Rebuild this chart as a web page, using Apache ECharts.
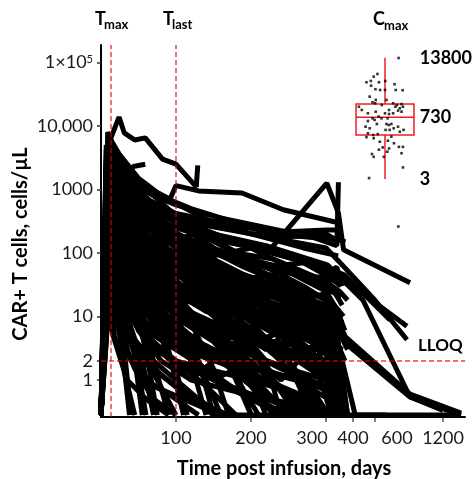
<!DOCTYPE html>
<html>
<head>
<meta charset="utf-8">
<script src="https://cdn.jsdelivr.net/npm/echarts@6/dist/echarts.min.js"></script>
<style>
html, body { margin: 0; padding: 0; background: #fff; }
#chart { width: 473px; height: 479px; }
</style>
</head>
<body>
<div id="chart"></div>
<script>
// axis ticks
var xTickDays = [100, 200, 300, 400, 600, 1200];
var yTickValues = [1, 2, 10, 100, 1000, 10000, 100000];

// reference lines
var tmaxDay = 13.3;
var tlastDay = 100;
var lloq = 2;

// one array per patient: [day, CAR+ T cells/uL]; 0.28 = below LLOQ (bottom)
var subjects = [
    [[0, .28], [7, 4200], [24, 13800], [31, 7800], [45, 6000], [59, 6500], [82, 3000], [100, 2500], [127, 1100], [129, 2400]],
    [[0, .28], [10, 7000], [22, 4000], [38, 1700], [43, 2300], [59, 2500]],
    [[0, .28], [11, 5500], [25, 3500], [50, 1500], [75, 900], [92, 700], [100, 1150], [130, 950], [188, 880], [243, 480], [330, 310], [352, 300]],
    [[0, .28], [12, 3000], [40, 1200], [70, 800], [100, 570], [159, 355], [248, 215], [300, 230], [360, 230]],
    [[0, .28], [8, 2500], [30, 900], [80, 300], [150, 160], [225, 112], [303, 1260], [346, 425], [365, 112], [909, 34]],
    [[0, .28], [10, 2000], [50, 600], [120, 300], [200, 200], [280, 180], [340, 130], [346, 1300]],
    [[0, .28], [9, 3500], [35, 1000], [100, 420], [160, 300], [250, 190], [350, 160], [372, 150]],
    [[0, .28], [10, 3000], [30, 1000], [80, 400], [150, 200], [220, 130], [305, 65], [491, 18], [909, 0.54], [1380, 0.28]],
    [[0, .28], [12, 2000], [40, 800], [100, 400], [200, 200], [300, 120], [346, 75], [600, 18], [882, 4.3]],
    [[0, .28], [9, 1500], [30, 600], [100, 250], [200, 120], [300, 60], [360, 40], [882, 7]],
    [[0, .28], [10, 800], [40, 200], [100, 60], [200, 20], [300, 8], [400, 3], [909, 0.54], [1200, 0.33]],
    [[0, .28], [12, 1200], [50, 300], [150, 60], [250, 20], [346, 6], [909, 0.6], [1380, 0.3]],
    [[0, .28], [10, 500], [60, 50], [150, 5], [250, 0.28], [1380, 0.28]],
    [[0, .28], [11, 2500], [40, 700], [100, 300], [200, 130], [300, 60], [369, 45], [732, 8.8]],
    [[0, .28], [9, 1000], [50, 150], [150, 40], [250, 12], [350, 3], [420, 0.28], [700, 0.28]],
    [[0, .28], [7, 5000], [14, 3000], [28, 2000], [60, 1000], [100, 600], [150, 300], [200, 200], [270, 120], [345, 90]],
    [[0, .28], [9, 8000], [21, 3000], [35, 1500], [56, 1200], [90, 700], [120, 500], [180, 300], [250, 180], [300, 200], [350, 150]],
    [[0, .28], [10, 4000], [17, 2500], [42, 900], [70, 500], [100, 350], [160, 180], [230, 100], [290, 60], [350, 40]],
    [[0, .28], [8, 3000], [20, 1500], [50, 400], [90, 150], [140, 60], [200, 30], [260, 15], [320, 8], [360, 5]],
    [[0, .28], [11, 6000], [28, 1500], [60, 300], [100, 80], [150, 25], [200, 8], [250, 2], [280, 0.28]],
    [[0, .28], [7, 2000], [18, 800], [35, 200], [60, 50], [100, 10], [130, 2], [150, 0.28], [300, 0.28]],
    [[0, .28], [12, 1500], [30, 700], [70, 250], [120, 120], [180, 50], [240, 25], [300, 12], [350, 10]],
    [[0, .28], [9, 1000], [25, 300], [50, 100], [80, 30], [110, 5], [140, 0.28]],
    [[0, .28], [14, 4500], [35, 2000], [70, 800], [110, 300], [170, 120], [220, 60], [270, 30], [330, 15], [365, 10]],
    [[0, .28], [7, 700], [16, 200], [30, 50], [50, 10], [70, 2], [90, 0.28]],
    [[0, .28], [10, 2500], [21, 1200], [45, 600], [80, 250], [130, 100], [190, 40], [260, 20], [320, 6], [350, 3]],
    [[0, .28], [13, 900], [28, 400], [55, 150], [95, 60], [150, 20], [210, 5], [260, 1], [290, 0.28]],
    [[0, .28], [8, 300], [20, 100], [40, 20], [60, 3], [75, 0.28]],
    [[0, .28], [11, 3500], [25, 1000], [55, 500], [90, 200], [130, 150], [180, 80], [240, 50], [300, 40], [340, 35]],
    [[0, .28], [9, 1800], [22, 700], [45, 300], [90, 90], [140, 40], [200, 15], [260, 4], [300, 1.5], [330, 0.28]],
    [[0, .28], [12, 600], [26, 250], [50, 80], [80, 40], [120, 12], [170, 3], [200, 0.28]],
    [[0, .28], [7, 150], [14, 60], [28, 15], [45, 3], [60, 0.28]],
    [[0, .28], [10, 1200], [24, 500], [48, 200], [85, 100], [130, 50], [180, 30], [230, 20], [290, 10], [345, 4]],
    [[0, .28], [14, 2200], [30, 900], [65, 350], [110, 180], [160, 90], [210, 70], [260, 45], [310, 30], [355, 20]],
    [[0, .28], [8, 450], [18, 150], [35, 60], [60, 20], [100, 5], [140, 1], [160, 0.28]],
    [[0, .28], [11, 5000], [21, 2500], [40, 1200], [70, 600], [110, 250], [160, 100], [210, 50], [260, 25], [330, 10], [370, 5]],
    [[0, .28], [9, 250], [20, 80], [40, 30], [70, 8], [100, 1.5], [115, 0.28]],
    [[0, .28], [13, 1400], [32, 450], [60, 150], [100, 70], [150, 35], [210, 12], [270, 6], [320, 2], [345, 0.28]],
    [[0, .28], [10, 3000], [16, 1500], [35, 400], [70, 100], [120, 30], [170, 10], [220, 2], [240, 0.28]],
    [[0, .28], [7, 800], [17, 350], [40, 100], [75, 25], [110, 8], [150, 4], [200, 1], [230, 0.28]],
    [[0, .28], [12, 200], [30, 50], [60, 12], [90, 3], [110, 0.28]],
    [[0, .28], [9, 600], [22, 300], [50, 150], [90, 60], [140, 30], [190, 15], [250, 6], [310, 3], [360, 1], [380, 0.28]],
    [[0, .28], [10, 100], [22, 30], [40, 6], [55, 0.28]],
    [[0, .28], [8, 1000], [20, 400], [45, 120], [80, 40], [130, 15], [180, 6], [240, 3], [300, 1], [340, 0.28]],
    [[0, .28], [11, 7000], [23, 3000], [45, 1000], [75, 400], [100, 200], [140, 120], [190, 60], [250, 30], [300, 20], [350, 12]],
    [[0, .28], [12, 350], [25, 120], [55, 40], [95, 15], [140, 6], [190, 2], [220, 0.28]],
    [[0, .28], [14, 1000], [30, 500], [60, 250], [100, 120], [160, 60], [220, 35], [280, 15], [330, 8], [380, 3]],
    [[0, .28], [7, 70], [15, 20], [30, 4], [40, 0.28]],
    [[0, .28], [9, 2800], [24, 900], [50, 280], [85, 90], [120, 35], [160, 12], [200, 5], [250, 2], [290, 0.5], [310, 0.28]],
    [[0, .28], [10, 500], [20, 250], [40, 90], [70, 45], [110, 25], [170, 12], [230, 7], [290, 4], [340, 2]],
    [[0, .28], [13, 3000], [28, 1300], [55, 700], [90, 400], [130, 250], [180, 150], [230, 100], [280, 70], [340, 50]],
    [[0, .28], [8, 1600], [15, 700], [30, 250], [55, 80], [90, 25], [120, 8], [150, 1.5], [170, 0.28]],
    [[0, .28], [11, 400], [24, 150], [45, 70], [80, 30], [120, 10], [160, 3], [190, 0.7], [210, 0.28]],
    [[0, .28], [9, 120], [20, 40], [35, 10], [55, 2], [70, 0.28]],
    [[0, .28], [12, 2000], [26, 800], [55, 300], [100, 150], [150, 80], [200, 40], [250, 20], [300, 10], [340, 6], [360, 0.28]],
    [[0, .28], [10, 50], [20, 12], [30, 2], [38, 0.28]],
    [[0, .28], [14, 600], [35, 200], [70, 70], [110, 30], [160, 18], [220, 9], [280, 5], [330, 2.5], [360, 1]],
    [[0, .28], [7, 2500], [14, 1000], [28, 350], [50, 100], [80, 35], [110, 15], [150, 5], [180, 1], [200, 0.28]],
    [[0, .28], [11, 1100], [25, 600], [50, 400], [85, 200], [130, 130], [180, 90], [240, 60], [300, 35], [350, 25], [380, 18]],
    [[0, .28], [10, 900], [30, 200], [60, 60], [100, 30], [150, 20], [200, 12], [260, 8], [320, 5], [350, 0.28]],
    [[0, .28], [12, 400], [25, 100], [50, 40], [90, 20], [140, 15], [200, 6], [250, 3], [300, 2], [345, 0.28]],
    [[0, .28], [9, 200], [20, 50], [45, 20], [80, 8], [120, 4], [170, 2], [220, 1], [280, 0.5], [320, 0.28]],
    [[0, .28], [11, 150], [25, 40], [50, 10], [80, 5], [110, 3], [150, 1], [200, 0.5], [240, 0.28]],
    [[0, .28], [13, 80], [30, 25], [60, 6], [100, 3], [140, 1.5], [180, 0.7], [250, 0.28]],
    [[0, .28], [8, 60], [20, 15], [40, 5], [70, 2], [100, 1], [130, 0.5], [160, 0.28]],
    [[0, .28], [10, 40], [25, 8], [50, 3], [80, 1.2], [120, 0.5], [150, 0.28]],
    [[0, .28], [12, 2000], [30, 500], [60, 100], [100, 40], [140, 60], [200, 30], [260, 20], [320, 12], [360, 8]],
    [[0, .28], [9, 5000], [20, 1200], [50, 250], [100, 80], [150, 50], [200, 40], [250, 25], [300, 15], [350, 10], [370, 6]],
    [[0, .28], [14, 700], [35, 300], [70, 150], [100, 100], [150, 70], [200, 40], [250, 50], [300, 25], [345, 12]],
    [[0, .28], [10, 300], [30, 80], [60, 30], [100, 15], [150, 8], [200, 4], [250, 6], [300, 3], [340, 1]],
    [[0, .28], [11, 1000], [30, 300], [60, 100], [100, 50], [140, 30], [200, 20], [260, 8], [300, 4], [330, 2], [350, 0.28]],
    [[0, .28], [8, 3500], [18, 1000], [40, 300], [80, 120], [120, 80], [170, 50], [220, 35], [280, 20], [330, 25], [360, 15]],
    [[0, .28], [13, 500], [30, 150], [60, 60], [100, 25], [150, 12], [200, 5], [240, 2], [270, 0.8], [300, 0.28]],
    [[0, .28], [9, 80], [20, 30], [40, 10], [70, 4], [100, 2], [140, 0.8], [180, 0.28]],
    [[0, .28], [12, 30], [25, 10], [50, 3], [75, 1], [100, 0.28]],
    [[0, .28], [10, 1500], [20, 600], [40, 200], [70, 90], [110, 40], [160, 15], [220, 8], [280, 3], [330, 1], [360, 0.28]],
    [[0, .28], [11, 6000], [25, 2000], [55, 700], [100, 300], [150, 120], [200, 60], [260, 30], [300, 18], [340, 10], [360, 0.28]],
    [[0, .28], [7, 1200], [15, 400], [30, 120], [60, 40], [100, 15], [140, 6], [180, 3], [230, 1], [270, 0.28]],
    [[0, .28], [14, 300], [30, 120], [60, 50], [100, 30], [140, 20], [190, 10], [250, 4], [300, 2], [350, 0.7], [380, 0.28]],
    [[0, .28], [10, 4000], [24, 1200], [48, 500], [80, 250], [120, 150], [170, 100], [220, 60], [270, 70], [320, 40], [355, 30]],
    [[0, .28], [12, 800], [28, 250], [55, 100], [95, 80], [140, 50], [190, 20], [240, 10], [290, 6], [335, 3], [360, 2]],
    [[0, .28], [9, 2000], [22, 600], [45, 150], [80, 50], [120, 20], [160, 8], [200, 3], [230, 1], [260, 0.28]],
    [[0, .28], [11, 250], [24, 90], [50, 35], [85, 15], [130, 7], [180, 3], [220, 1.2], [260, 0.5], [290, 0.28]],
    [[0, .28], [8, 20], [16, 5], [30, 1.5], [45, 0.28]],
    [[0, .28], [13, 2500], [30, 1000], [60, 450], [100, 200], [150, 90], [200, 120], [250, 60], [300, 30], [350, 20]],
    [[0, .28], [10, 600], [22, 200], [45, 60], [80, 20], [120, 10], [170, 6], [220, 4], [280, 2], [330, 1.5], [350, 0.28]],
    [[0, .28], [12, 100], [28, 35], [55, 12], [90, 6], [130, 3], [175, 1.5], [220, 0.6], [260, 0.28]],
    [[0, .28], [9, 3000], [19, 800], [40, 250], [70, 100], [110, 60], [160, 35], [210, 25], [260, 15], [310, 8], [350, 5]],
    [[0, .28], [11, 400], [26, 200], [50, 100], [90, 60], [140, 35], [190, 25], [240, 12], [290, 7], [340, 4], [370, 2]],
    [[0, .28], [10, 1000], [40, 150], [90, 20], [140, 50], [200, 15], [260, 30], [320, 8], [350, 3]],
    [[0, .28], [12, 500], [30, 80], [70, 10], [120, 40], [180, 10], [240, 15], [300, 5], [340, 2]],
    [[0, .28], [9, 200], [30, 20], [70, 5], [110, 12], [160, 4], [220, 8], [280, 2], [330, 1], [350, 0.28]],
    [[0, .28], [11, 3000], [35, 600], [80, 150], [130, 200], [180, 100], [230, 80], [290, 40], [340, 60], [360, 30]],
    [[0, .28], [10, 60], [30, 8], [60, 2], [100, 5], [150, 1], [200, 2], [250, 0.5], [290, 0.28]],
    [[0, .28], [10, 800], [20, 100], [40, 10], [70, 3], [100, 2], [150, 1], [200, 0.6], [260, 0.4], [330, 0.28]],
    [[0, .28], [9, 400], [18, 50], [35, 5], [60, 1], [90, 0.6], [130, 0.28]],
    [[0, .28], [12, 1500], [25, 200], [50, 30], [90, 10], [140, 6], [190, 3], [240, 1.5], [300, 0.8], [350, 0.28]],
    [[0, .28], [11, 100], [22, 10], [40, 2], [70, 0.8], [110, 0.5], [160, 0.28]],
    [[0, .28], [8, 50], [18, 5], [35, 1], [60, 0.5], [90, 0.28]],
    [[0, .28], [13, 250], [30, 30], [60, 8], [100, 4], [150, 3], [200, 2.5], [250, 1.5], [300, 1], [350, 0.5]],
    [[0, .28], [10, 3000], [22, 500], [50, 80], [90, 30], [130, 20], [180, 15], [230, 10], [280, 6], [330, 4], [360, 3]],
    [[0, .28], [9, 1200], [20, 300], [45, 60], [80, 15], [130, 8], [180, 5], [230, 4], [290, 3], [340, 0.28]],
    [[0, .28], [12, 150], [25, 30], [50, 6], [80, 2], [120, 1], [170, 0.7], [220, 0.5], [280, 0.28]],
    [[0, .28], [11, 700], [25, 150], [55, 40], [95, 25], [140, 12], [200, 10], [260, 5], [320, 3], [350, 0.28]],
    [[0, .28], [14, 60], [30, 15], [60, 4], [100, 2], [140, 1.5], [200, 1], [260, 0.6], [320, 0.28]],
    [[0, .28], [10, 2500], [30, 400], [70, 100], [120, 50], [170, 25], [230, 12], [290, 8], [340, 5], [380, 0.28]],
    [[0, .28], [8, 600], [16, 150], [30, 40], [55, 12], [90, 5], [130, 2.5], [180, 1.5], [240, 0.7], [300, 0.28]],
    [[0, .28], [12, 40], [24, 6], [45, 1.5], [70, 0.5], [100, 0.28]],
    [[0, .28], [9, 900], [20, 250], [40, 70], [75, 30], [115, 20], [165, 12], [215, 8], [270, 5], [320, 3], [350, 1.5]],
    [[0, .28], [11, 200], [24, 60], [50, 20], [85, 10], [125, 8], [175, 5], [225, 3], [275, 1.8], [330, 1], [360, 0.28]],
    [[0, .28], [13, 4000], [28, 900], [60, 200], [100, 90], [150, 45], [200, 25], [250, 18], [300, 10], [350, 7], [380, 4]],
    [[0, .28], [10, 350], [22, 80], [45, 25], [80, 12], [120, 5], [160, 2], [200, 0.8], [230, 0.28]],
    [[0, .28], [7, 3000], [14, 1500], [25, 500], [50, 200], [90, 100], [130, 40], [180, 20], [230, 8], [280, 3], [320, 0.28]],
    [[0, .28], [12, 250], [26, 70], [50, 25], [90, 8], [130, 4], [180, 2], [240, 1.2], [300, 0.7], [360, 0.28]],
    [[0, .28], [10, 150], [20, 40], [40, 15], [70, 6], [110, 3], [150, 2], [200, 1.5], [260, 1], [310, 0.5], [340, 0.28]],
    [[0, .28], [9, 700], [25, 120], [55, 30], [100, 10], [160, 5], [220, 3.5], [280, 2.5], [330, 1.8], [360, 0.28]],
    [[0, .28], [11, 1800], [30, 350], [65, 80], [110, 40], [160, 30], [210, 20], [260, 12], [310, 10], [350, 6]],
    [[0, .28], [12, 900], [30, 250], [60, 90], [100, 60], [150, 40], [210, 25], [270, 15], [330, 12], [360, 8]],
    [[0, .28], [10, 80], [20, 20], [40, 4], [70, 1.5], [100, 0.8], [140, 0.4], [170, 0.28]],
    [[0, .28], [10, 400], [40, 30], [100, 3], [160, 10], [220, 3], [280, 12], [330, 2], [350, 0.28]],
    [[0, .28], [12, 100], [50, 6], [120, 1], [180, 4], [240, 1], [300, 6], [340, 0.28]]
];

// Cmax box: min, q1, median, q3, max (cells/uL) and the annotated numbers
var cmaxBox = [3, 64, 219, 550, 13800];
var cmaxLabels = ['13800', '730', '3'];
var cmaxLabelValues = [13800, 219, 3];

// individual Cmax points and their horizontal jitter (box half-widths)
var cmaxValues = [13500, 4450, 3700, 2500, 2730, 1970, 2500, 2170, 1460, 1460, 1540, 1460, 1440, 920, 620, 580, 730, 730, 580, 515,
    550, 457, 457, 410, 347, 323, 364, 289, 275, 289, 289, 457, 323, 229, 182, 204, 204, 169, 137, 137,
    128, 137, 114, 102, 91, 91, 80, 91, 102, 72, 64, 55, 51, 40, 43, 57, 36, 28, 28, 25,
    20, 23, 17, 14, 14, 18, 6.7, 3.2, 0.11, 2730, 364, 515, 204, 114, 68, 27];
var cmaxJitter = [0.47, -0.26, -0.39, -0.64, -0.49, -0.48, -0.21, 0.33, 0.0, -0.17, -0.33, 0.37, 0.61, -0.53, -0.43, -0.34, -0.32, 0.05, 0.28, 0.41,
    0.57, 0.62, 0.36, 0.51, 0.45, 0.57, 0.14, 0.28, 0.14, 0.0, -0.59, -0.9, -0.32, -0.22, -0.36, -0.43, -0.12, -0.59, -0.28, 0.05,
    0.13, 0.22, 0.45, 0.3, 0.16, 0.02, 0.51, 0.64, -0.53, -0.59, -0.41, -0.64, -0.39, -0.18, 0.1, 0.22, 0.31, 0.48, 0.62, 0.14,
    0.08, -0.21, -0.45, -0.39, -0.04, 0.57, 0.62, -0.55, 0.46, 0.01, -0.8, -0.11, 0.09, -0.67, -0.25, -0.08];

// broken x axis: linear to 300 days, then compressed
var xKnotDays = [0, 300, 400, 600, 1200, 1400];
var xKnotPos = [0, 300, 336, 365.3, 456, 482.7];

function tx(d) {
    for (var i = 1; i < xKnotDays.length; i++) {
        if (d <= xKnotDays[i] || i === xKnotDays.length - 1) {
            var f = (d - xKnotDays[i - 1]) / (xKnotDays[i] - xKnotDays[i - 1]);
            return xKnotPos[i - 1] + f * (xKnotPos[i] - xKnotPos[i - 1]);
        }
    }
}
function lg(v) { return Math.log10(v); }

var font = 'Lato';
var red = '#ee1c25';

// the 300 and 600 labels sit a little off their ticks in the original
var xLabelNudge = [0, 0, -18.7, 0, 29.3, 0];
var xLabelPos = xTickDays.map(function (d, i) { return tx(d) + xLabelNudge[i]; });

var series = subjects.map(function (s) {
    return {
        type: 'line',
        xAxisIndex: 0,
        yAxisIndex: 0,
        data: s.map(function (p) { return [tx(p[0]), lg(p[1])]; }),
        symbol: 'none',
        silent: true,
        z: 2,
        lineStyle: { color: '#000', width: 5 }
    };
});

// dashed reference lines
series.push({
    type: 'line',
    xAxisIndex: 0,
    yAxisIndex: 0,
    data: [],
    z: 5,
    markLine: {
        silent: true,
        symbol: ['none', 'none'],
        label: { show: false },
        lineStyle: { color: 'rgba(235,0,0,0.75)', type: [5, 3], width: 1.5 },
        data: [{ xAxis: tx(tmaxDay) }, { xAxis: tx(tlastDay) }, { yAxis: lg(lloq) }]
    }
});

// Cmax box plot
series.push({
    type: 'custom',
    xAxisIndex: 1,
    yAxisIndex: 1,
    z: 6,
    silent: true,
    data: [[0].concat(cmaxBox.map(lg))],
    renderItem: function (params, api) {
        var lo = api.coord([0, api.value(1)]);
        var q1 = api.coord([0, api.value(2)]);
        var md = api.coord([0, api.value(3)]);
        var q3 = api.coord([0, api.value(4)]);
        var hi = api.coord([0, api.value(5)]);
        var half = api.size([1, 0])[0];
        var st = { stroke: red, fill: 'none', lineWidth: 1.5 };
        return {
            type: 'group',
            children: [
                { type: 'line', shape: { x1: hi[0], y1: hi[1], x2: q3[0], y2: q3[1] }, style: st },
                { type: 'line', shape: { x1: q1[0], y1: q1[1], x2: lo[0], y2: lo[1] }, style: st },
                { type: 'rect', shape: { x: q3[0] - half, y: q3[1], width: half * 2, height: q1[1] - q3[1] }, style: st },
                { type: 'line', shape: { x1: md[0] - half, y1: md[1], x2: md[0] + half, y2: md[1] }, style: st }
            ]
        };
    }
});
series.push({
    type: 'scatter',
    xAxisIndex: 1,
    yAxisIndex: 1,
    z: 7,
    silent: true,
    symbol: 'rect',
    symbolSize: 2.6,
    itemStyle: { color: '#000' },
    data: cmaxValues.map(function (v, i) { return [cmaxJitter[i], lg(v)]; })
});
// box annotations next to whisker ends and median
series.push({
    type: 'custom',
    xAxisIndex: 1,
    yAxisIndex: 1,
    z: 7,
    silent: true,
    data: cmaxLabelValues.map(function (v, i) { return [1.2, lg(v), i]; }),
    renderItem: function (params, api) {
        var p = api.coord([api.value(0), api.value(1)]);
        return {
            type: 'text',
            x: p[0],
            y: p[1],
            style: {
                text: cmaxLabels[api.value(2)],
                fill: '#000',
                font: 'bold 18px ' + font,
                verticalAlign: 'middle'
            }
        };
    }
});

var chart = echarts.init(document.getElementById('chart'), null, { renderer: 'canvas' });
chart.setOption({
    animation: false,
    backgroundColor: '#fff',
    grid: [
        { left: 101, top: 45, width: 364, height: 372 },
        { left: 343, top: 45, width: 84, height: 372 }
    ],
    xAxis: [
        {
            type: 'value',
            gridIndex: 0,
            min: 0,
            max: 485.3,
            splitLine: { show: false },
            axisLine: { onZero: false, lineStyle: { color: '#000', width: 2 } },
            axisTick: { customValues: xTickDays.map(tx), length: 5, lineStyle: { color: '#555', width: 1.5 } },
            axisLabel: {
                customValues: xLabelPos,
                margin: 12,
                color: '#1a1a1a',
                fontFamily: font,
                fontSize: 18,
                formatter: function (v) {
                    var best = 0;
                    for (var i = 1; i < xLabelPos.length; i++) {
                        if (Math.abs(xLabelPos[i] - v) < Math.abs(xLabelPos[best] - v)) best = i;
                    }
                    return String(xTickDays[best]);
                }
            }
        },
        { type: 'value', gridIndex: 1, min: -1.45, max: 1.45, show: false }
    ],
    yAxis: [
        {
            type: 'value',
            gridIndex: 0,
            min: -0.583,
            max: 5.275,
            splitLine: { show: false },
            axisLine: { show: true, onZero: false, lineStyle: { color: '#000', width: 2 } },
            axisTick: { show: true, customValues: yTickValues.map(lg), length: 4, lineStyle: { color: '#333', width: 1.5 } },
            axisLabel: {
                customValues: yTickValues.map(lg),
                margin: 8,
                color: '#1a1a1a',
                fontFamily: font,
                fontSize: 18,
                formatter: function (v) {
                    var n = Math.round(Math.pow(10, v));
                    if (n === 100000) return '{n|1×10}{sup|5}';
                    if (n === 10000) return '10,000';
                    return String(n);
                },
                rich: {
                    n: { fontFamily: font, fontSize: 18, color: '#1a1a1a' },
                    sup: { fontFamily: font, fontSize: 11, color: '#1a1a1a', verticalAlign: 'top' }
                }
            }
        },
        { type: 'value', gridIndex: 1, min: -6.71, max: 4.523, show: false }
    ],
    graphic: [
        { type: 'text', x: 95, y: 19, style: { text: 'T', font: 'bold 18px ' + font, fill: '#000', verticalAlign: 'middle' } },
        { type: 'text', x: 104, y: 25, style: { text: 'max', font: 'bold 13px ' + font, fill: '#000', verticalAlign: 'middle' } },
        { type: 'text', x: 163, y: 19, style: { text: 'T', font: 'bold 18px ' + font, fill: '#000', verticalAlign: 'middle' } },
        { type: 'text', x: 172, y: 25, style: { text: 'last', font: 'bold 13px ' + font, fill: '#000', verticalAlign: 'middle' } },
        { type: 'text', x: 373, y: 19, style: { text: 'C', font: 'bold 18px ' + font, fill: '#000', verticalAlign: 'middle' } },
        { type: 'text', x: 384, y: 26, style: { text: 'max', font: 'bold 13px ' + font, fill: '#000', verticalAlign: 'middle' } },
        { type: 'text', x: 418, y: 346, style: { text: 'LLOQ', font: 'bold 17px ' + font, fill: '#000', verticalAlign: 'middle' } },
        { type: 'text', x: 284, y: 469, style: { text: 'Time post infusion, days', font: 'bold 20px ' + font, fill: '#000', align: 'center', verticalAlign: 'middle' } },
        { type: 'text', x: 21, y: 244, rotation: Math.PI / 2, style: { text: 'CAR+ T cells, cells/µL', font: 'bold 20px ' + font, fill: '#000', align: 'center', verticalAlign: 'middle' } }
    ],
    series: series
});
</script>
</body>
</html>
